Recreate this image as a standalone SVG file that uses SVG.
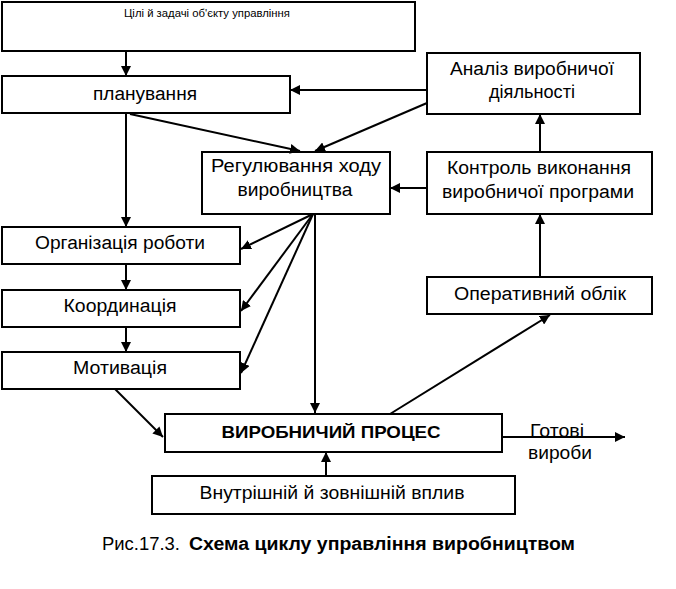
<svg xmlns="http://www.w3.org/2000/svg" width="676" height="589" viewBox="0 0 676 589">
<defs>
<marker id="ah" viewBox="0 0 10 10" refX="10" refY="5" markerWidth="5" markerHeight="5" orient="auto" markerUnits="strokeWidth">
<path d="M0,0 L10,5 L0,10 z" fill="#000"/>
</marker>
<style>
.box{fill:#fff;stroke:#000;stroke-width:2}
.t{font-family:"Liberation Sans",Arial,sans-serif;font-size:18px;fill:#000;text-anchor:middle}
.b{font-weight:bold;font-size:17px}
.c{stroke:#000;stroke-width:2;fill:none;marker-end:url(#ah)}
</style>
</defs>
<rect width="676" height="589" fill="#fff"/>
<g id="goals"><rect class="box" x="2" y="2" width="413" height="49"/><text class="t" x="207" y="17" style="font-size:11px" textLength="166" lengthAdjust="spacingAndGlyphs">Цілі й задачі об'єкту управління</text></g>
<g id="planning"><rect class="box" x="2" y="76" width="288" height="37"/><text class="t" x="145" y="100" textLength="104" lengthAdjust="spacingAndGlyphs">планування</text></g>
<g id="analysis"><rect class="box" x="427" y="53" width="213" height="61"/><text class="t" x="532" y="75" textLength="164" lengthAdjust="spacingAndGlyphs">Аналіз виробничої</text><text class="t" x="532" y="98" textLength="86" lengthAdjust="spacingAndGlyphs">діяльності</text></g>
<g id="regulation"><rect class="box" x="202" y="152" width="188" height="62"/><text class="t" x="296" y="172" textLength="170" lengthAdjust="spacingAndGlyphs">Регулювання ходу</text><text class="t" x="295" y="196" textLength="115" lengthAdjust="spacingAndGlyphs">виробництва</text></g>
<g id="control"><rect class="box" x="427" y="152" width="225" height="62"/><text class="t" x="539" y="174" textLength="184" lengthAdjust="spacingAndGlyphs">Контроль виконання</text><text class="t" x="538" y="198" textLength="192" lengthAdjust="spacingAndGlyphs">виробничої програми</text></g>
<g id="accounting"><rect class="box" x="427" y="277" width="225" height="37"/><text class="t" x="540" y="300" textLength="172" lengthAdjust="spacingAndGlyphs">Оперативний облік</text></g>
<g id="organization"><rect class="box" x="2" y="227" width="238" height="37"/><text class="t" x="120" y="249" textLength="170" lengthAdjust="spacingAndGlyphs">Організація роботи</text></g>
<g id="coordination"><rect class="box" x="2" y="290" width="238" height="37"/><text class="t" x="120" y="312" textLength="113" lengthAdjust="spacingAndGlyphs">Координація</text></g>
<g id="motivation"><rect class="box" x="2" y="352" width="238" height="37"/><text class="t" x="120" y="374" textLength="94" lengthAdjust="spacingAndGlyphs">Мотивація</text></g>
<g id="process"><rect class="box" x="165" y="414" width="337" height="38"/><text class="t b" x="331" y="438" textLength="219" lengthAdjust="spacingAndGlyphs">ВИРОБНИЧИЙ ПРОЦЕС</text></g>
<g id="influence"><rect class="box" x="152" y="476" width="363" height="38"/><text class="t" x="332" y="499" textLength="265" lengthAdjust="spacingAndGlyphs">Внутрішній й зовнішній вплив</text></g>
<g id="products"><text class="t" x="530" y="437" style="text-anchor:start" textLength="54" lengthAdjust="spacingAndGlyphs">Готові</text><text class="t" x="528" y="459" style="text-anchor:start" textLength="64" lengthAdjust="spacingAndGlyphs">вироби</text></g>
<g id="connectors">
<line class="c" x1="126" y1="51" x2="126" y2="76"/>
<line class="c" x1="427" y1="90" x2="290" y2="90"/>
<line class="c" x1="427" y1="103" x2="315" y2="151"/>
<line class="c" x1="130" y1="114" x2="300" y2="151"/>
<line class="c" x1="126" y1="113" x2="126" y2="227"/>
<line class="c" x1="427" y1="188" x2="390" y2="188"/>
<line class="c" x1="540" y1="152" x2="540" y2="114"/>
<line class="c" x1="540" y1="277" x2="540" y2="214"/>
<line class="c" x1="126" y1="264" x2="126" y2="290"/>
<line class="c" x1="126" y1="327" x2="126" y2="352"/>
<line class="c" x1="313" y1="214" x2="241" y2="249"/>
<line class="c" x1="313" y1="214" x2="241" y2="311"/>
<line class="c" x1="313" y1="214" x2="241" y2="373"/>
<line class="c" x1="315" y1="214" x2="315" y2="413"/>
<line class="c" x1="115" y1="389" x2="163" y2="437"/>
<line class="c" x1="390" y1="414" x2="550" y2="315"/>
<line class="c" x1="326" y1="476" x2="326" y2="452"/>
<line class="c" x1="502" y1="437" x2="625" y2="437"/>
</g>
<g id="caption" style="font-family:'Liberation Sans',Arial,sans-serif;font-size:18px">
<text x="102" y="550" textLength="78" lengthAdjust="spacingAndGlyphs">Рис.17.3.</text>
<text x="189" y="550" font-weight="bold" textLength="386" lengthAdjust="spacingAndGlyphs">Схема циклу управління виробництвом</text>
</g>
</svg>
